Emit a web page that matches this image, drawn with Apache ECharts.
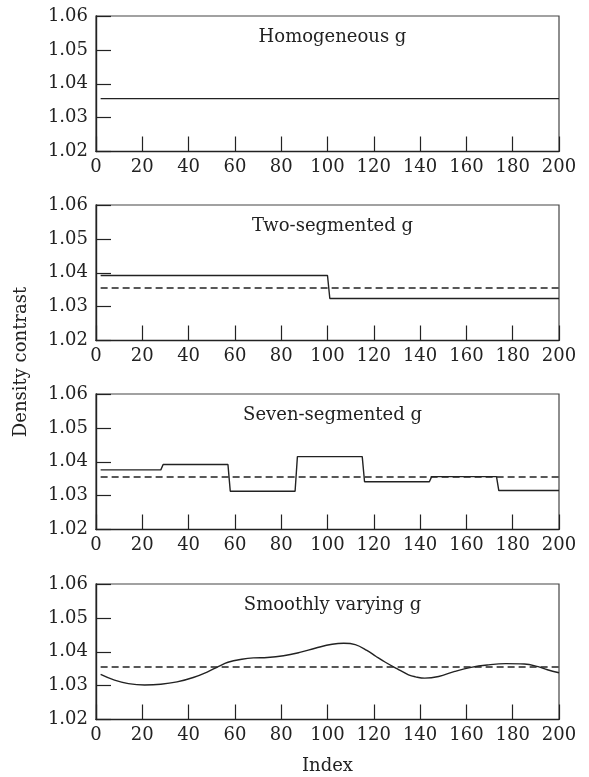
<!DOCTYPE html>
<html>
<head>
<meta charset="utf-8">
<script src="https://cdn.jsdelivr.net/npm/echarts@6/dist/echarts.min.js"></script>
<style>
html,body{margin:0;padding:0;background:#fff;}
#chart{width:589px;height:777px;}
</style>
</head>
<body>
<div id="chart"></div>
<script>
// ---- data ----
var panelTitles = ['Homogeneous g', 'Two-segmented g', 'Seven-segmented g', 'Smoothly varying g'];
var xTicks = [0, 20, 40, 60, 80, 100, 120, 140, 160, 180, 200];
var yTicks = [1.02, 1.03, 1.04, 1.05, 1.06];
var meanValue = 1.0355;
var meanX = [2, 200];

var homoX = [2, 200];
var homoY = [1.0356, 1.0356];

var twoSegX = [2, 100, 101, 200];
var twoSegY = [1.0392, 1.0392, 1.0324, 1.0324];

var sevenSegX = [2, 28, 29, 57, 58, 86, 87, 115, 116, 144, 145, 173, 174, 200];
var sevenSegY = [1.0376, 1.0376, 1.0392, 1.0392, 1.0313, 1.0313, 1.0415, 1.0415, 1.0341, 1.0341, 1.0356, 1.0356, 1.0315, 1.0315];

var smoothX = [2, 8, 14, 21, 28, 35, 42, 48, 53, 57, 63, 68, 74, 81, 88, 95, 102, 107, 112, 117, 121, 125, 130, 135, 138, 142, 148, 155, 162, 169, 177, 185, 191, 195, 200];
var smoothY = [1.0333, 1.0316, 1.0306, 1.0302, 1.0304, 1.0311, 1.0324, 1.0340, 1.0357, 1.0369, 1.0378, 1.0382, 1.0383, 1.0388, 1.0398, 1.0411, 1.0422, 1.0425, 1.0421, 1.0404, 1.0386, 1.0369, 1.0350, 1.0332, 1.0326, 1.0322, 1.0327, 1.0342, 1.0354, 1.0361, 1.0365, 1.0364, 1.0356, 1.0347, 1.0338];

var xName = 'Index';
var yName = 'Density contrast';

// ---- build ----
function zip(xs, ys) { return xs.map(function (x, i) { return [x, ys[i]]; }); }

var FONT = 'DejaVu Serif';
var INK = '#222';
var gridTops = [16, 205, 394, 584];
var gridLeft = 96, gridW = 463, gridH = 135.5;

var grids = [], xAxes = [], yAxes = [], series = [], titles = [];
gridTops.forEach(function (t, i) {
  grids.push({left: gridLeft, top: t, width: gridW, height: gridH, show: true,
    borderColor: '#444', borderWidth: 1.2, backgroundColor: 'transparent'});
  var xa = {
    gridIndex: i, type: 'value', min: 0, max: 200, interval: 20,
    axisLine: {show: true, onZero: false, lineStyle: {color: INK, width: 1.4}},
    axisTick: {show: true, inside: true, length: 15, lineStyle: {color: INK, width: 1.2}},
    axisLabel: {show: true, fontFamily: FONT, fontSize: 18, color: INK, margin: 7,
      formatter: function (v) { return xTicks.indexOf(v) >= 0 ? String(v) : ''; }},
    splitLine: {show: false}
  };
  if (i === 3) {
    xa.name = xName; xa.nameLocation = 'middle'; xa.nameGap = 38;
    xa.nameTextStyle = {fontFamily: FONT, fontSize: 18, color: INK};
  }
  xAxes.push(xa);
  yAxes.push({
    gridIndex: i, type: 'value', min: 1.02, max: 1.06, interval: 0.01,
    axisLine: {show: true, onZero: false, lineStyle: {color: INK, width: 1.4}},
    axisTick: {show: true, inside: true, length: 15, lineStyle: {color: INK, width: 1.2}},
    axisLabel: {show: true, fontFamily: FONT, fontSize: 18, color: INK, margin: 8,
      formatter: function (v) { return v.toFixed(2); }},
    splitLine: {show: false}
  });
  titles.push({text: panelTitles[i], left: gridLeft + gridW / 2, top: t + 7, textAlign: 'center',
    textStyle: {fontFamily: FONT, fontSize: 18, fontWeight: 'normal', color: INK}});
  if (i > 0) {
    series.push({type: 'line', xAxisIndex: i, yAxisIndex: i, data: zip(meanX, [meanValue, meanValue]),
      symbol: 'none', lineStyle: {color: INK, width: 1.4, type: [7, 4]}, silent: true, animation: false});
  }
});

series.push({type: 'line', xAxisIndex: 0, yAxisIndex: 0, data: zip(homoX, homoY),
  symbol: 'none', lineStyle: {color: INK, width: 1.4}, animation: false});
series.push({type: 'line', xAxisIndex: 1, yAxisIndex: 1, data: zip(twoSegX, twoSegY),
  symbol: 'none', lineStyle: {color: INK, width: 1.4}, animation: false});
series.push({type: 'line', xAxisIndex: 2, yAxisIndex: 2, data: zip(sevenSegX, sevenSegY),
  symbol: 'none', lineStyle: {color: INK, width: 1.4}, animation: false});
series.push({type: 'line', xAxisIndex: 3, yAxisIndex: 3, data: zip(smoothX, smoothY),
  symbol: 'none', smooth: 0.4, lineStyle: {color: INK, width: 1.4}, animation: false});

var chart = echarts.init(document.getElementById('chart'), null, {renderer: 'canvas'});
chart.setOption({
  backgroundColor: '#fff',
  animation: false,
  title: titles,
  grid: grids,
  xAxis: xAxes,
  yAxis: yAxes,
  series: series,
  graphic: [{
    type: 'text', x: 21, y: 362, rotation: Math.PI / 2,
    style: {text: yName, fontFamily: FONT, fontSize: 18, fill: INK, align: 'center', verticalAlign: 'middle'}
  }]
});
</script>
</body>
</html>
